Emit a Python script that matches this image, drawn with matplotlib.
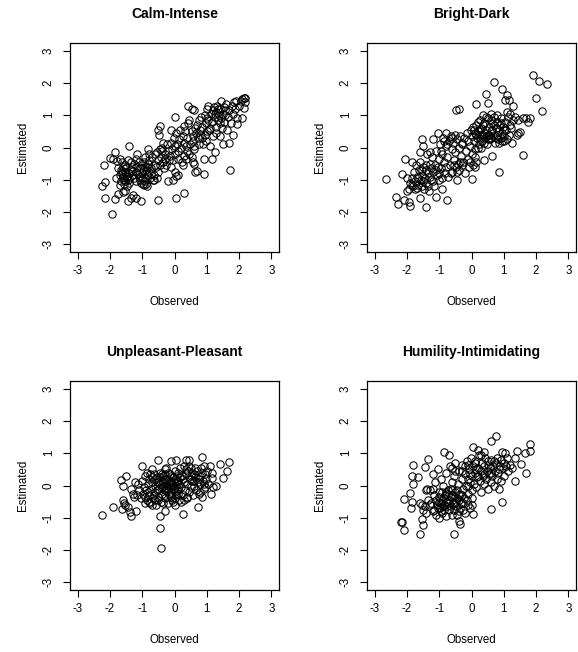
import matplotlib
matplotlib.use("Agg")
import matplotlib.pyplot as plt

plt.rcParams['font.family'] = ['Liberation Sans', 'DejaVu Sans']

titles = ["Calm-Intense", "Bright-Dark", "Unpleasant-Pleasant", "Humility-Intimidating"]
tick_values = [-3, -2, -1, 0, 1, 2, 3]
x_label = "Observed"
y_label = "Estimated"

calm_obs = [
    -1.95, -2.25, -2.15, -2.15, -2.20, -1.85, -1.75, -1.60, -1.52, -1.45,
    -1.35, -1.28, -1.20, -1.05, -0.50, 0.05, 0.28, -1.90, -1.85, -1.40,
    -1.15, -2.00, -1.80, -1.70, -1.78, -1.65, -1.62, -1.60, -1.58, -1.55,
    -1.65, -1.70, -1.55, -1.50, -1.52, -1.60, -1.48, -1.45, -1.42, -1.40,
    -1.35, -1.30, -1.32, -1.25, -1.25, -1.20, -1.18, -1.15, -1.10, -1.10,
    -1.05, -1.02, -1.00, -0.98, -0.95, -0.92, -0.90, -0.88, -0.86, -0.85,
    -0.83, -0.80, -0.78, -0.75, -0.72, -0.70, -0.68, -1.00, -1.05, -0.95,
    -0.90, -1.20, -1.35, -1.45, -1.62, -1.68, -1.75, -1.58, -1.48, -0.97,
    -0.85, -1.08, -0.93, -0.88, -1.12, -1.28, -1.40, -1.55, -1.63, -0.65,
    -0.62, -0.60, -0.78, -0.82, -0.55, -0.65, -0.73, -0.50, -0.45, -0.42,
    -0.40, -0.38, -0.35, -0.33, -0.30, -0.28, -0.25, -0.22, -0.20, -0.18,
    -0.15, -0.12, -0.10, -0.08, -0.05, -0.02, 0.00, 0.02, 0.05, 0.08,
    0.10, 0.12, 0.15, 0.18, 0.20, 0.22, 0.25, 0.28, 0.30, 0.32,
    0.35, 0.38, 0.40, 0.42, 0.45, 0.42, 0.28, 0.00, -0.45, -0.50,
    -0.48, -0.10, -0.20, -0.05, 0.05, 0.12, 0.00, -0.55, -0.58, -0.52,
    -0.45, -0.35, 0.25, 0.35, 0.48, 0.45, 0.55, 0.60, 0.55, 0.57,
    0.58, 0.60, 0.62, 0.55, 0.58, 0.62, 0.65, 0.70, 0.65, 0.68,
    0.70, 0.72, 0.75, 0.78, 0.80, 0.82, 0.85, 0.88, 0.90, 0.92,
    0.95, 0.95, 0.98, 1.00, 1.02, 1.05, 1.08, 1.10, 1.12, 1.15,
    1.15, 1.18, 1.20, 1.22, 1.25, 1.25, 1.28, 1.30, 1.32, 1.35,
    1.38, 1.40, 1.42, 1.45, 1.45, 1.48, 1.50, 1.50, 1.52, 1.55,
    1.58, 1.60, 1.62, 1.65, 1.68, 1.70, 1.72, 1.75, 1.78, 1.80,
    1.82, 1.85, 1.88, 1.90, 1.95, 1.95, 2.00, 2.05, 2.10, 2.15,
    2.20, 2.20, 2.15, 2.10, 1.30, 1.10, 0.98, 1.05, 1.25, 1.40,
    1.58, 1.00, 0.85, 0.75, 1.35,
]
calm_est = [
    -2.07, -1.20, -1.08, -1.57, -0.53, -1.60, -1.43, -1.38, -1.35, -1.67,
    -1.58, -1.47, -1.58, -1.65, -1.62, -1.58, -1.40, -0.35, -0.15, 0.05,
    -0.20, -0.32, -0.95, -1.15, -0.42, -0.70, -0.80, -0.90, -1.00, -1.05,
    -1.05, -0.85, -0.75, -0.65, -0.55, -0.60, -0.90, -1.00, -1.10, -0.80,
    -0.70, -0.85, -0.60, -0.50, -0.95, -1.05, -0.75, -0.60, -0.45, -0.90,
    -1.10, -0.95, -0.80, -0.70, -1.15, -1.05, -0.95, -1.12, -0.85, -0.60,
    -0.50, -0.75, -0.40, -0.95, -0.65, -0.30, -1.00, -0.55, -0.65, -0.45,
    -0.30, -0.35, -0.45, -0.40, -0.45, -0.35, -0.65, -1.12, -1.18, -1.12,
    -1.18, -1.00, -0.62, -0.70, -0.82, -0.72, -0.95, -0.88, -0.72, -0.85,
    -0.55, -0.20, -0.20, -0.05, -0.95, -1.02, -0.82, -0.40, -0.55, -0.30,
    -0.10, 0.00, -0.45, -0.65, -0.20, -0.35, -0.55, 0.10, -0.10, -0.40,
    -0.25, -0.60, 0.15, -0.05, -0.40, 0.30, 0.05, -0.20, 0.45, 0.10,
    -0.10, -0.35, 0.25, 0.55, 0.00, -0.45, 0.35, 0.15, -0.25, 0.50,
    0.05, -0.10, 0.30, 0.75, 0.85, 1.30, 0.68, 0.95, 0.68, 0.55,
    0.40, 0.55, -1.05, -1.02, -0.88, -0.85, -0.75, -0.15, -0.60, -0.75,
    -0.05, 0.15, -0.55, -0.35, 0.10, -0.20, 1.20, 1.15, 0.50, 0.35,
    0.20, 0.05, -0.05, -0.30, -0.45, -0.50, -0.75, -0.72, 0.60, 0.45,
    0.70, 0.30, 0.85, 0.55, 0.40, 0.95, 0.65, 0.10, -0.82, -0.35,
    0.40, 1.00, 0.75, 1.20, 0.90, 1.30, 0.55, 0.05, 1.05, -0.35,
    0.80, 1.15, 0.35, 1.25, -0.15, 0.95, 0.65, 1.10, 1.30, 0.85,
    1.00, 0.35, 1.20, 1.45, 0.90, 0.60, 0.10, 1.05, 1.25, 0.80,
    1.00, 1.35, 0.55, 0.95, 1.15, 0.15, -0.70, 0.75, 1.30, 0.40,
    1.05, 1.40, 1.20, 1.45, 0.90, 0.72, 1.30, 1.45, 1.50, 1.55,
    1.55, 1.40, 1.22, 0.93, 0.45, 0.60, 0.20, 0.85, 1.05, 0.75,
    1.15, 0.50, 0.30, 0.10, 1.20,
]

bright_obs = [
    -2.65, -2.35, -2.28, -2.10, -1.95, -1.92, -1.60, -1.40, -1.10, -0.75,
    -0.45, 0.00, 0.85, 1.60, 0.65, 0.40, 0.70, 0.45, 0.50, 0.15,
    -0.40, -0.48, 0.95, 1.10, 1.15, 1.05, 1.30, 1.10, 1.20, 1.90,
    2.10, 2.35, 2.00, 2.20, 1.60, 1.70, 1.80, 1.75, 1.45, 1.45,
    1.40, 1.25, 1.00, 1.50, -2.15, -2.05, -1.85, -1.55, -1.50, -1.60,
    -2.00, -1.95, -2.00, -1.90, -1.85, -1.80, -1.78, -1.75, -1.72, -1.70,
    -1.68, -1.65, -1.62, -1.60, -1.58, -1.55, -1.52, -1.50, -1.48, -1.45,
    -1.42, -1.40, -1.38, -1.35, -1.32, -1.30, -1.28, -1.25, -1.22, -1.20,
    -1.18, -1.15, -1.12, -1.10, -1.08, -1.05, -1.02, -1.00, -0.98, -0.95,
    -0.92, -0.90, -0.88, -0.85, -0.82, -0.80, -0.78, -0.75, -0.72, -0.70,
    -0.68, -0.65, -0.62, -0.60, -0.58, -0.55, -0.52, -0.50, -0.48, -0.45,
    -0.42, -0.40, -0.38, -0.35, -0.32, -0.30, -0.28, -0.25, -0.22, -0.20,
    -0.18, -0.15, -0.12, -0.10, -0.08, -0.05, -0.02, 0.00, 0.02, 0.05,
    0.08, 0.10, 0.12, 0.15, 0.18, 0.20, 0.22, 0.25, 0.28, 0.30,
    0.32, 0.35, 0.38, 0.40, 0.42, 0.45, 0.48, 0.50, 0.52, 0.55,
    0.58, 0.60, 0.62, 0.65, 0.68, 0.70, 0.72, 0.75, 0.78, 0.80,
    0.82, 0.85, 0.88, 0.90, 0.92, 0.95, 0.98, 1.02, 1.05, 1.08,
    1.12, 1.15, 1.18, 1.22, 1.28, 1.35, 0.05, 0.10, 0.15, 0.12,
    -0.05, 0.20, 0.30, 0.25, 0.35, 0.40, 0.45, 0.55, 0.60, 0.65,
    0.75, 0.50, 0.15, 0.08, 0.70, 0.95, 0.85, 1.10, 0.35, 0.25,
    -0.35, -0.45, -0.55, -0.65, -0.30, -0.60, -0.75, -0.85, -0.95, -1.05,
    -1.25, -1.40, -1.55, -1.65, -1.75, -1.85, -1.50, -1.35, -1.20, -1.30,
    -0.90, -0.80, -1.00, -1.10, 0.60, 0.45, 0.80, 0.90, 1.00, 0.20,
]
bright_est = [
    -0.97, -1.52, -1.75, -1.62, -1.70, -1.80, -1.57, -1.83, -1.52, -1.63,
    -1.02, -0.97, -0.75, -0.22, -0.27, -0.40, 2.02, 1.65, 1.37, 1.35,
    1.20, 1.15, 1.80, 1.62, 1.48, 1.48, 1.30, 1.10, 1.05, 2.25,
    2.07, 1.98, 1.55, 1.13, 0.90, 0.90, 0.93, 0.80, 0.85, 0.45,
    0.38, 0.15, 0.20, 0.48, -0.82, -0.35, -0.45, 0.25, 0.05, -0.15,
    -0.95, -1.30, -1.35, -1.10, -0.95, -1.20, -0.75, -1.05, -0.55, -0.90,
    -1.25, -1.15, -0.70, -0.45, -1.00, -1.20, -0.85, -0.60, -1.30, -0.95,
    -0.70, -1.10, -0.20, -0.80, -1.35, -0.50, -0.15, -1.00, -0.30, -0.75,
    0.25, -1.20, -0.55, -0.10, -0.85, 0.45, -1.00, -0.35, 0.10, -0.65,
    -1.30, -0.20, 0.30, -0.45, -0.80, 0.05, 0.45, -0.30, -0.90, 0.20,
    -0.55, 0.35, -0.05, -0.75, 0.15, -0.40, 0.40, -0.15, -0.60, 0.25,
    -0.50, 0.00, -0.70, 0.35, -0.25, -0.55, 0.10, -0.45, 0.30, -0.80,
    -0.10, 0.45, -0.35, 0.20, -0.60, 0.05, 0.55, -0.20, 0.35, 0.65,
    0.20, 0.45, -0.05, 0.70, 0.30, 0.50, 0.10, 0.85, 0.40, 0.60,
    0.20, 1.00, 0.45, 0.75, 0.30, 0.55, 0.10, 0.90, 0.40, 0.65,
    0.25, 1.05, 0.50, 0.75, 0.35, 0.95, 0.15, 0.60, 0.40, 0.80,
    0.25, 0.55, 0.70, 0.30, 0.90, 0.45, 0.65, 0.35, 0.80, 0.55,
    0.95, 0.40, 0.70, 0.60, 0.85, 0.95, -0.55, -0.30, -0.45, -0.60,
    -0.45, 0.00, 0.00, 0.25, 0.40, 0.15, 0.35, 0.40, 0.30, 0.55,
    0.30, 0.25, 0.40, 0.55, 0.70, 0.20, 0.15, 0.25, 0.70, 0.55,
    -0.45, -0.75, -0.55, -0.80, 0.15, 0.30, 0.10, 0.20, -0.10, -0.60,
    -0.65, -0.55, -0.70, -0.95, -1.30, -1.15, -1.05, -1.20, -1.05, -0.90,
    -0.95, -0.60, -0.80, -0.70, 0.85, 0.95, 1.00, 0.75, 0.55, 0.80,
]

unp_obs = [
    -2.25, -1.90, -1.65, -1.60, -1.50, -1.60, -1.58, -1.55, -1.62, -1.45,
    -1.38, -1.35, -1.20, -1.35, -1.30, -1.22, -1.12, -1.00, -0.85, -0.50,
    -0.45, -0.45, -0.42, -0.30, 0.25, 0.72, -0.70, 0.05, -0.10, 0.35,
    0.45, 0.85, 0.90, 1.40, 1.68, 1.62, 1.50, 1.28, 1.20, 1.12,
    0.85, 1.15, 1.15, 1.02, 1.10, -1.15, -1.10, -1.05, -1.00, -0.98,
    -0.95, -0.92, -0.90, -0.88, -0.85, -0.82, -0.80, -0.78, -0.75, -0.72,
    -0.70, -0.68, -0.65, -0.62, -0.60, -0.58, -0.55, -0.52, -0.50, -0.48,
    -0.45, -0.42, -0.40, -0.38, -0.35, -0.32, -0.30, -0.28, -0.25, -0.22,
    -0.20, -0.18, -0.15, -0.12, -0.10, -0.08, -0.05, -0.02, 0.00, 0.02,
    0.05, 0.08, 0.10, 0.12, 0.15, 0.18, 0.20, 0.22, 0.25, 0.28,
    0.30, 0.32, 0.35, 0.38, 0.40, 0.42, 0.45, 0.48, 0.50, 0.52,
    0.55, 0.58, 0.60, 0.62, 0.65, 0.68, 0.70, 0.72, 0.75, 0.78,
    0.80, 0.82, 0.88, 0.92, 0.95, 0.98, 1.05, -0.45, -0.40, -0.35,
    -0.30, -0.25, -0.20, -0.15, -0.10, -0.05, 0.00, 0.05, -0.05, -0.10,
    0.00, -0.02, -0.55, -0.60, -0.65, -0.50, -0.40, -0.30, -0.20, -0.12,
    0.10, 0.15, 0.25, 0.30, 0.40, 0.45, 0.55, 0.65, 0.75, 0.85,
    0.90, -0.80, -0.75, -0.70, -0.90, -1.25, -0.25, -0.35, 0.20, 0.35,
    0.60, 0.80, 0.95, -0.60, -0.20, -0.15, -0.08, 0.05, 0.12, -0.30,
    -0.45, -0.55, -0.28, 0.18, 0.00, -0.18, 0.08, -0.70, -0.82, 0.50,
]
unp_est = [
    -0.90, -0.68, 0.18, 0.00, 0.30, -0.45, -0.55, -0.60, -0.73, -0.68,
    -0.82, -0.95, -0.78, -0.10, -0.25, 0.10, 0.05, 0.60, 0.40, 0.80,
    -0.95, -1.33, -1.93, -0.80, -0.88, -0.68, 0.50, 0.78, 0.75, 0.78,
    0.78, 0.87, 0.60, 0.68, 0.72, 0.45, 0.22, 0.00, -0.05, -0.25,
    -0.35, 0.22, 0.40, 0.45, 0.62, -0.30, -0.15, -0.40, 0.15, -0.25,
    -0.05, -0.35, 0.30, -0.15, -0.45, 0.05, -0.30, 0.20, -0.55, -0.10,
    0.10, -0.40, 0.35, -0.20, 0.00, -0.60, 0.25, -0.35, 0.10, -0.10,
    0.40, -0.50, 0.15, -0.25, 0.30, 0.00, -0.40, 0.50, -0.15, 0.20,
    -0.55, 0.05, 0.35, -0.30, 0.10, -0.45, 0.25, -0.10, 0.45, -0.60,
    0.00, 0.30, -0.25, 0.15, -0.45, 0.55, -0.05, 0.30, -0.30, 0.10,
    0.60, -0.15, 0.35, -0.40, 0.05, 0.45, -0.20, 0.20, -0.05, 0.55,
    0.15, -0.30, 0.35, 0.00, 0.25, -0.15, 0.45, 0.10, -0.25, 0.30,
    0.05, 0.55, 0.15, -0.10, 0.35, 0.20, 0.05, 0.05, -0.05, 0.10,
    -0.15, 0.05, -0.10, 0.15, -0.20, 0.00, 0.20, -0.30, -0.50, -0.35,
    -0.40, 0.10, -0.15, 0.20, -0.30, -0.45, 0.35, 0.20, 0.40, 0.30,
    0.40, 0.05, 0.20, -0.45, -0.35, 0.60, 0.40, 0.55, 0.20, 0.40,
    0.05, -0.50, 0.35, -0.60, -0.55, -0.35, 0.55, -0.55, -0.50, 0.50,
    0.15, -0.20, -0.05, -0.45, 0.00, -0.05, 0.05, 0.15, -0.10, 0.35,
    0.25, 0.10, -0.30, 0.25, -0.20, -0.25, -0.15, 0.25, -0.20, 0.30,
]

humil_obs = [
    -2.15, -2.20, -2.10, -1.60, -1.55, -1.50, -2.10, -1.90, -1.85, -1.88,
    -1.80, -1.85, -1.80, -1.65, -1.45, -1.35, -0.85, -0.70, 0.05, 0.20,
    0.40, 0.60, 0.75, 0.95, 1.05, 1.40, 1.65, 1.80, 1.80, 1.35,
    1.55, 1.70, 1.35, 1.25, 0.95, 0.60, 0.85, -0.55, -0.35, -0.40,
    0.05, -0.05, -0.10, -1.60, -1.55, -1.50, -1.45, -1.42, -1.38, -1.35,
    -1.30, -1.25, -1.20, -1.18, -1.15, -1.12, -1.10, -1.08, -1.05, -1.02,
    -1.00, -0.98, -0.95, -0.92, -0.90, -0.88, -0.85, -0.82, -0.80, -0.78,
    -0.75, -0.72, -0.70, -0.68, -0.65, -0.62, -0.60, -0.58, -0.55, -0.52,
    -0.50, -0.48, -0.45, -0.42, -0.40, -0.38, -0.35, -0.32, -0.30, -0.28,
    -0.25, -0.22, -0.20, -0.18, -0.15, -0.12, -0.10, -0.08, -0.05, -0.02,
    0.00, 0.02, 0.05, 0.08, 0.10, 0.12, 0.15, 0.18, 0.20, 0.22,
    0.25, 0.28, 0.30, 0.32, 0.35, 0.38, 0.40, 0.42, 0.45, 0.48,
    0.50, 0.52, 0.55, 0.58, 0.60, 0.62, 0.65, 0.68, 0.70, 0.72,
    0.75, 0.78, 0.80, 0.82, 0.88, 0.90, 0.92, 0.98, 1.00, 1.02,
    1.08, 1.10, 1.12, 1.18, -1.20, -1.10, -1.00, -0.95, -0.90, -0.85,
    -0.80, -0.75, -0.70, -0.65, -0.60, -0.55, -0.50, -0.45, -0.40, -0.35,
    -0.30, -0.25, -0.20, -0.15, -0.85, -0.75, -0.65, -0.55, -0.95, -1.05,
    -0.70, -0.60, -0.50, -0.40, -0.80, -0.90, -1.00, -1.15, -0.30, -0.20,
    0.10, 0.30, 0.50, 0.40, 0.15, -0.10, 0.60, 0.70, 0.85, -0.50,
    -0.60, -0.05, 0.20, 0.00, -1.30, -1.40, -0.45, -0.25, 0.00, -0.10,
]
humil_est = [
    -1.12, -1.12, -1.38, -1.50, -1.05, -1.22, -0.43, -0.23, -0.50, -0.70,
    0.65, 0.28, 0.05, 0.25, 0.57, 0.82, 1.05, 0.95, 1.20, 1.10,
    1.05, 1.38, 1.55, 1.05, 1.00, 1.08, 1.02, 1.28, 1.08, 0.85,
    0.68, 0.40, 0.13, 0.55, -0.52, -0.72, -0.10, -1.50, -1.20, -1.10,
    -0.88, -0.70, -0.60, -0.55, -0.60, -0.75, -0.65, -0.15, -0.10, -0.45,
    -0.15, -0.55, -0.80, 0.35, -0.30, 0.10, -0.90, -0.60, 0.50, -0.20,
    -1.00, -0.70, 0.20, -0.45, -0.85, 0.00, -0.60, -0.30, -0.95, 0.40,
    -0.50, -0.15, -0.75, 0.60, -0.35, 0.10, -0.90, -0.55, 0.30, -0.20,
    0.70, -0.65, -0.40, 0.05, -0.80, 0.45, -0.25, -0.55, 0.20, 0.65,
    -0.10, -0.40, 0.35, 0.00, 0.75, 0.20, -0.25, 0.50, 0.10, 0.85,
    0.30, -0.15, 0.60, 0.05, 0.40, 0.75, -0.05, 0.25, 0.55, 0.95,
    0.15, 0.45, -0.20, 0.70, 0.30, 0.05, 0.60, 0.85, 0.20, 0.45,
    -0.10, 0.75, 0.35, 0.55, 0.10, 0.80, 0.30, 0.60, 0.00, 0.45,
    0.70, 0.20, 0.85, 0.40, 0.60, 0.15, 0.80, 0.55, 0.30, 0.70,
    0.60, 0.85, 0.45, 0.65, -0.10, -0.45, -0.35, -0.55, -0.20, -0.75,
    -0.50, -0.25, -0.45, -0.65, -0.30, -0.50, -0.35, -0.15, -0.45, -0.70,
    -0.30, -0.55, -0.85, -0.45, -0.40, -0.65, -0.10, -0.75, -0.80, -0.70,
    -0.55, -0.15, -0.55, -0.30, -0.20, -0.65, -0.50, -0.75, 0.45, 0.60,
    0.70, 0.95, 0.65, 0.35, 0.50, 0.65, 0.40, 0.75, 0.50, 0.45,
    0.55, 0.35, 0.30, -0.40, -0.60, -0.85, -0.90, -0.75, -0.60, 0.00,
]

W, H = 578, 652
panels = [
    (titles[0], calm_obs, calm_est, 70, 43),
    (titles[1], bright_obs, bright_est, 367, 43),
    (titles[2], unp_obs, unp_est, 70, 381),
    (titles[3], humil_obs, humil_est, 367, 381),
]
SIZE = 209

fig = plt.figure(figsize=(W / 100, H / 100), dpi=100)
for title, xs, ys, left, top in panels:
    ax = fig.add_axes([left / W, (H - top - SIZE) / H, SIZE / W, SIZE / H])
    ax.plot(xs, ys, linestyle='none', marker='o', markersize=5.3,
            markerfacecolor='none', markeredgecolor='black', markeredgewidth=0.75)
    ax.set_xlim(-3.24, 3.24)
    ax.set_ylim(-3.24, 3.24)
    ax.set_xticks(tick_values)
    ax.set_yticks(tick_values)
    ax.set_xticklabels([str(v) for v in tick_values])
    ax.set_yticklabels([str(v) for v in tick_values], rotation=90, va='center')
    ax.tick_params(axis='both', direction='out', length=5, width=0.8,
                   labelsize=8.3, color='black')
    ax.tick_params(axis='x', pad=4.5)
    ax.tick_params(axis='y', pad=6)
    for sp in ax.spines.values():
        sp.set_linewidth(0.9)
        sp.set_color('black')
    ax.set_xlabel(x_label, fontsize=8.3)
    ax.set_ylabel(y_label, fontsize=8.3)
    ax.xaxis.set_label_coords(0.5, -50 / SIZE)
    ax.xaxis.label.set_va('center')
    ax.yaxis.set_label_coords(-47 / SIZE, 0.5)
    ax.yaxis.label.set_va('center')
    ax.text(0.5, 1 + 29 / SIZE, title, transform=ax.transAxes, ha='center',
            va='center', fontsize=10, fontweight='bold')

fig.savefig("out.png", dpi=100)
